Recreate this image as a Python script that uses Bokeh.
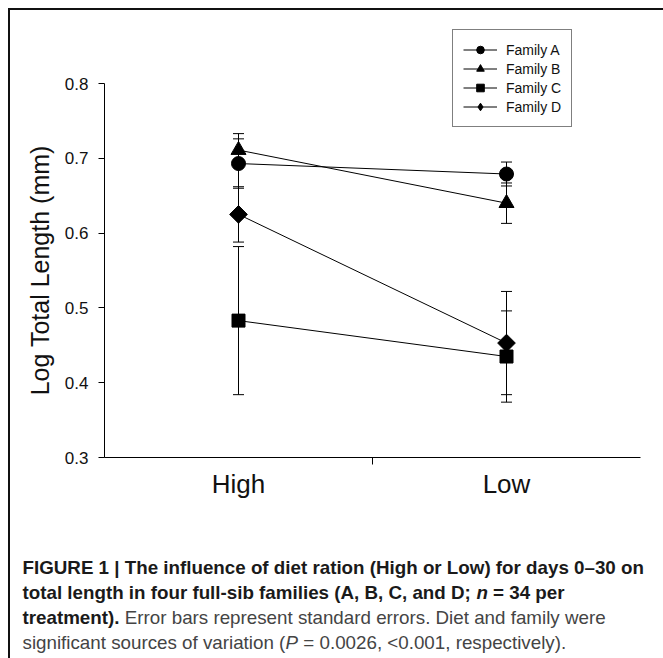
import glob, struct, math, subprocess, os
from bokeh.plotting import figure
from bokeh.models import (Range1d, FixedTicker, Whisker, TeeHead, ColumnDataSource,
                          Legend, LegendItem)
from bokeh.layouts import column
from bokeh.core.properties import value
from bokeh.embed import file_html
from bokeh.resources import INLINE

# ---------------- data ----------------
treatments = ["High", "Low"]
families = ["Family A", "Family B", "Family C", "Family D"]
high_means = [0.693, 0.711, 0.483, 0.625]
low_means = [0.679, 0.640, 0.435, 0.453]
high_se = [0.033, 0.022, 0.099, 0.037]
low_se = [0.016, 0.027, 0.061, 0.069]
y_ticks = [0.3, 0.4, 0.5, 0.6, 0.7, 0.8]
y_label = "Log Total Length (mm)"

caption_lines = [
    [("FIGURE 1 | The influence of diet ration (High or Low) for days 0\u201330 on", "bold")],
    [("total length in four full-sib families (A, B, C, and D; ", "bold"), ("n", "bold italic"),
     (" = 34 per", "bold")],
    [("treatment).", "bold"), (" Error bars represent standard errors. Diet and family were", "normal")],
    [("significant sources of variation (", "normal"), ("P", "italic"),
     (" = 0.0026, <0.001, respectively).", "normal")],
]

# ---------------- font measuring (for caption runs) ----------------
def load_font(path):
    data = open(path, "rb").read()
    n = struct.unpack(">H", data[4:6])[0]
    tabs = {}
    for i in range(n):
        tag, cs, off, ln = struct.unpack(">4sIII", data[12 + 16 * i:28 + 16 * i])
        tabs[tag.decode("latin1")] = off
    head = tabs["head"]
    upem = struct.unpack(">H", data[head + 18:head + 20])[0]
    hhea = tabs["hhea"]
    nhm = struct.unpack(">H", data[hhea + 34:hhea + 36])[0]
    hm = tabs["hmtx"]
    adv = [struct.unpack(">H", data[hm + 4 * i:hm + 4 * i + 2])[0] for i in range(nhm)]
    cm = tabs["cmap"]
    nsub = struct.unpack(">H", data[cm + 2:cm + 4])[0]
    sub = None
    for i in range(nsub):
        pid, eid, off = struct.unpack(">HHI", data[cm + 4 + 8 * i:cm + 12 + 8 * i])
        fmt = struct.unpack(">H", data[cm + off:cm + off + 2])[0]
        if fmt == 4 and pid in (0, 3):
            sub = cm + off
            break
    segx2 = struct.unpack(">H", data[sub + 6:sub + 8])[0]
    seg = segx2 // 2
    ends = struct.unpack(">%dH" % seg, data[sub + 14:sub + 14 + segx2])
    starts = struct.unpack(">%dH" % seg, data[sub + 16 + segx2:sub + 16 + 2 * segx2])
    deltas = struct.unpack(">%dh" % seg, data[sub + 16 + 2 * segx2:sub + 16 + 3 * segx2])
    rpos = sub + 16 + 3 * segx2
    roffs = struct.unpack(">%dH" % seg, data[rpos:rpos + segx2])

    def gid(c):
        for i in range(seg):
            if starts[i] <= c <= ends[i]:
                if roffs[i] == 0:
                    return (c + deltas[i]) & 0xFFFF
                addr = rpos + 2 * i + roffs[i] + 2 * (c - starts[i])
                g = struct.unpack(">H", data[addr:addr + 2])[0]
                return (g + deltas[i]) & 0xFFFF if g else 0
        return 0

    def width(s):
        return sum(adv[min(gid(ord(ch)), nhm - 1)] for ch in s) / upem
    return width


def fc_file(pattern):
    try:
        out = subprocess.run(["fc-match", "-f", "%{file}", pattern], capture_output=True,
                             text=True, timeout=10).stdout.strip()
        return out or None
    except Exception:
        return None


def find_font(style_name, file_suffix):
    f = fc_file("Liberation Sans:style=%s" % style_name)
    if f and "LiberationSans-" in os.path.basename(f) and os.path.exists(f):
        return f
    hits = glob.glob("/usr/share/fonts/**/LiberationSans-%s.ttf" % file_suffix, recursive=True)
    return hits[0] if hits else None


cap_family = "Liberation Sans"
style_spec = {"normal": ("Regular", "Regular", 0.50), "bold": ("Bold", "Bold", 0.56),
              "italic": ("Italic", "Italic", 0.50), "bold italic": ("Bold Italic", "BoldItalic", 0.56)}
measure = {}
for st, (sname, suf, k) in style_spec.items():
    f = find_font(sname, suf)
    try:
        measure[st] = load_font(f) if f else None
    except Exception:
        measure[st] = None
    if measure[st] is None:
        measure[st] = (lambda s, k=k: len(s) * k)

# ---------------- main figure ----------------
FIG_W = 653
PX_PER_UNIT = 748.0
FRAME_H = 437
p = figure(width=FIG_W, height=528, output_backend="svg", toolbar_location=None, title=None,
           x_range=Range1d(0, 4), y_range=Range1d(0.3, 0.3 + FRAME_H / PX_PER_UNIT),
           min_border_left=94, min_border_right=23, min_border_top=10, min_border_bottom=81)
p.grid.visible = False
p.outline_line_color = None
p.background_fill_color = "white"
p.border_fill_color = "white"

x_pos = [1 + 2 * i for i in range(len(treatments))]

xa = p.xaxis[0]
xa.ticker = FixedTicker(ticks=x_pos, minor_ticks=[2])
xa.major_label_overrides = {x: t for x, t in zip(x_pos, treatments)}
xa.bounds = (0, 4)
xa.major_tick_out = 0
xa.major_tick_in = 0
xa.minor_tick_out = 7
xa.minor_tick_in = 0
xa.minor_tick_line_color = "black"
xa.axis_line_color = "black"
xa.axis_line_width = 1
xa.major_label_text_font = "Liberation Sans"
xa.major_label_text_font_size = "26px"
xa.major_label_text_color = "#111111"
xa.major_label_standoff = 4

ya = p.yaxis[0]
ya.ticker = FixedTicker(ticks=y_ticks, minor_ticks=[])
ya.bounds = (0.3, 0.8)
ya.major_tick_out = 6
ya.major_tick_in = 0
ya.major_tick_line_color = "black"
ya.axis_line_color = "black"
ya.major_label_text_font = "Liberation Sans"
ya.major_label_text_font_size = "17px"
ya.major_label_text_color = "#111111"
ya.major_label_standoff = 10
# non-breaking spaces centre the label on the 0.3-0.8 span of the axis
ya.axis_label = y_label + "\u00a0" * 9
ya.axis_label_text_font = "Liberation Sans"
ya.axis_label_text_font_size = "25px"
ya.axis_label_text_font_style = "normal"
ya.axis_label_text_color = "#111111"
ya.axis_label_standoff = 8

markers = ["circle", "triangle", "square", "square"]
sizes = [14, 15, 13, 12.5]
angles = [0, 0, 0, math.pi / 4]

items = []
for i, fam in enumerate(families):
    ys = [high_means[i], low_means[i]]
    ses = [high_se[i], low_se[i]]
    src = ColumnDataSource(dict(x=x_pos, y=ys,
                                upper=[m + s for m, s in zip(ys, ses)],
                                lower=[m - s for m, s in zip(ys, ses)]))
    w = Whisker(source=src, base="x", upper="upper", lower="lower", dimension="height",
                line_color="black", line_width=1, level="underlay",
                upper_head=TeeHead(size=11, line_color="black", line_width=1),
                lower_head=TeeHead(size=11, line_color="black", line_width=1))
    p.add_layout(w)
    lr = p.line("x", "y", source=src, line_color="black", line_width=1)
    sr = p.scatter("x", "y", source=src, marker=markers[i], size=sizes[i], angle=angles[i],
                   fill_color="black", line_color="black")
    if i == 3:
        # hidden under the rotated square; used for the legend glyph
        sr = p.scatter("x", "y", source=src, marker="diamond", size=16,
                       fill_color="black", line_color="black")
    items.append(LegendItem(label=fam, renderers=[lr, sr]))

legend = Legend(items=items, location=(348, 330), orientation="vertical",
                glyph_width=34, glyph_height=19, label_height=19, spacing=0,
                padding=10, margin=0, label_standoff=9,
                label_text_font="Liberation Sans", label_text_font_size="14px",
                label_text_color="#111111",
                border_line_color="black", border_line_width=1,
                background_fill_color="white", background_fill_alpha=1)
p.add_layout(legend)

# ---------------- caption figure ----------------
CAP_H = 120
cap = figure(width=FIG_W, height=CAP_H, output_backend="svg", toolbar_location=None, title=None,
             x_range=Range1d(0, FIG_W), y_range=Range1d(CAP_H, 0),
             x_axis_type=None, y_axis_type=None, min_border=0)
cap.grid.visible = False
cap.outline_line_color = None
try:
    cap.frame_align = False
except Exception:
    pass

line1 = caption_lines[0][0][0]
cap_size = 622.0 / measure["bold"](line1)
x0 = 12
line_y = [29, 54, 79, 104]
colors = {"bold": "#1a1a1a", "bold italic": "#1a1a1a", "normal": "#444444", "italic": "#444444"}
for ly, runs in zip(line_y, caption_lines):
    x = x0
    for txt, st in runs:
        lead = len(txt) - len(txt.lstrip(" "))
        x += measure[st](" " * lead) * cap_size
        core = txt.strip(" ")
        cap.text(x=[x], y=[ly], text=[core], text_font=value(cap_family),
                 text_font_size="%.2fpx" % cap_size, text_font_style=st,
                 text_color=colors[st], text_baseline="middle", text_align="left")
        x += measure[st](core) * cap_size
        trail = len(txt) - len(txt.rstrip(" "))
        x += measure[st](" " * trail) * cap_size

layout = column(p, cap, spacing=0,
                styles={"margin-left": "8px", "margin-top": "8px",
                        "border-top": "2px solid #111111", "border-left": "2px solid #111111"})

open("out.html", "w").write(file_html(layout, INLINE))
